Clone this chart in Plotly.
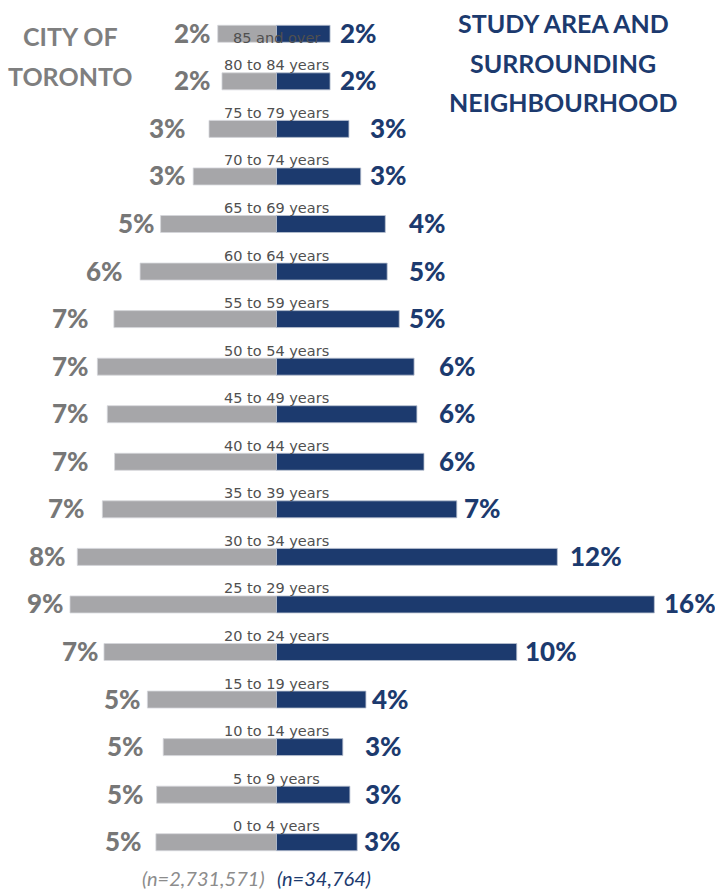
import plotly.graph_objects as go

# ---------------- data (top row first) ----------------
age_groups = ["85 and over", "80 to 84 years", "75 to 79 years", "70 to 74 years",
              "65 to 69 years", "60 to 64 years", "55 to 59 years", "50 to 54 years",
              "45 to 49 years", "40 to 44 years", "35 to 39 years", "30 to 34 years",
              "25 to 29 years", "20 to 24 years", "15 to 19 years", "10 to 14 years",
              "5 to 9 years", "0 to 4 years"]
toronto_pct = [2.49, 2.31, 2.86, 3.53, 4.91, 5.78, 6.89, 7.59, 7.17, 6.86,
               7.38, 8.44, 8.75, 7.31, 5.47, 4.80, 5.08, 5.11]
study_pct = [2.27, 2.27, 3.07, 3.57, 4.61, 4.69, 5.20, 5.83, 5.95, 6.25,
             7.64, 11.90, 16.01, 10.18, 3.79, 2.81, 3.11, 3.42]
toronto_labels = ["2%", "2%", "3%", "3%", "5%", "6%", "7%", "7%", "7%", "7%",
                  "7%", "8%", "9%", "7%", "5%", "5%", "5%", "5%"]
study_labels = ["2%", "2%", "3%", "3%", "4%", "5%", "5%", "6%", "6%", "6%",
                "7%", "12%", "16%", "10%", "4%", "3%", "3%", "3%"]
toronto_n = "(n=2,731,571)"
study_n = "(n=34,764)"

# ---------------- layout constants ----------------
W, H = 715, 890
CENTER_PX = 276.5
PX_PER_UNIT = 23.6
MT, MB = 10, 24
PLOT_H = H - MT - MB
# label anchor positions (pixels), layout only
left_label_px = [213, 213, 188, 188, 157, 125, 91, 91, 91, 91, 87, 68, 66, 101, 143, 146, 146, 144]
right_label_px = [338, 338, 368, 368, 407, 407, 407, 437, 437, 437, 462, 568, 662, 523, 370, 363, 363, 362]

GREY_BAR = "#a6a6a9"
NAVY = "#1c3a6e"
GREY_TXT = "#777777"
CAT_TXT = "#505050"


def dx(px):
    return (px - CENTER_PX) / PX_PER_UNIT


def py(y):
    return 1 - (y - MT) / PLOT_H


fig = go.Figure()
fig.add_trace(go.Bar(y=age_groups, x=[-v for v in toronto_pct], orientation="h",
                     marker=dict(color=GREY_BAR, line=dict(color="#d4d6da", width=0.8)),
                     width=0.357, showlegend=False, hoverinfo="skip"))
fig.add_trace(go.Bar(y=age_groups, x=study_pct, orientation="h",
                     marker=dict(color=NAVY, line=dict(color="#b9c1d1", width=0.8)),
                     width=0.357, showlegend=False, hoverinfo="skip"))

ann = []
for i, g in enumerate(age_groups):
    ann.append(dict(x=0, y=g, xref="x", yref="y", text=g, showarrow=False,
                    xanchor="center", yanchor="middle",
                    yshift=(-4 if i == 0 else 16),
                    font=dict(family="DejaVu Sans", size=14.5, color=CAT_TXT)))
    ann.append(dict(x=dx(left_label_px[i]), y=g, xref="x", yref="y",
                    text=toronto_labels[i], showarrow=False,
                    xanchor="right", yanchor="middle", yshift=1,
                    font=dict(family="Lato", size=26, color=GREY_TXT, weight=900)))
    ann.append(dict(x=dx(right_label_px[i]), y=g, xref="x", yref="y",
                    text=study_labels[i], showarrow=False,
                    xanchor="left", yanchor="middle", yshift=1,
                    font=dict(family="Lato", size=26, color=NAVY, weight=900)))

# titles
for txt, yy in [("CITY OF", 36), ("TORONTO", 76)]:
    ann.append(dict(x=70 / W, y=py(yy), xref="paper", yref="paper", text=txt,
                    showarrow=False, xanchor="center", yanchor="middle",
                    font=dict(family="Lato", size=25, color="#7f7f7f", weight="bold")))
for txt, yy in [("STUDY AREA AND", 22.5), ("SURROUNDING", 62.5), ("NEIGHBOURHOOD", 102)]:
    ann.append(dict(x=563 / W, y=py(yy), xref="paper", yref="paper", text=txt,
                    showarrow=False, xanchor="center", yanchor="middle",
                    font=dict(family="Lato", size=25, color=NAVY, weight="bold")))

# sample sizes
ann.append(dict(x=267 / W, y=py(878), xref="paper", yref="paper", text=toronto_n,
                showarrow=False, xanchor="right", yanchor="middle",
                font=dict(family="Lato", size=20, color="#8c8c8c", style="italic")))
ann.append(dict(x=275 / W, y=py(878), xref="paper", yref="paper", text=study_n,
                showarrow=False, xanchor="left", yanchor="middle",
                font=dict(family="Lato", size=20, color=NAVY, style="italic")))

fig.update_layout(
    width=W, height=H,
    margin=dict(l=0, r=0, t=MT, b=MB),
    barmode="relative",
    plot_bgcolor="white", paper_bgcolor="white",
    xaxis=dict(range=[dx(0), dx(W)], showticklabels=False, showgrid=False,
               zeroline=False, showline=False, fixedrange=True),
    yaxis=dict(categoryorder="array", categoryarray=age_groups[::-1],
               range=[-0.5, len(age_groups) - 0.5],
               showticklabels=False, showgrid=False, zeroline=False,
               showline=False, fixedrange=True),
    annotations=ann,
)

fig.write_html("out.html", config={"displayModeBar": False})
